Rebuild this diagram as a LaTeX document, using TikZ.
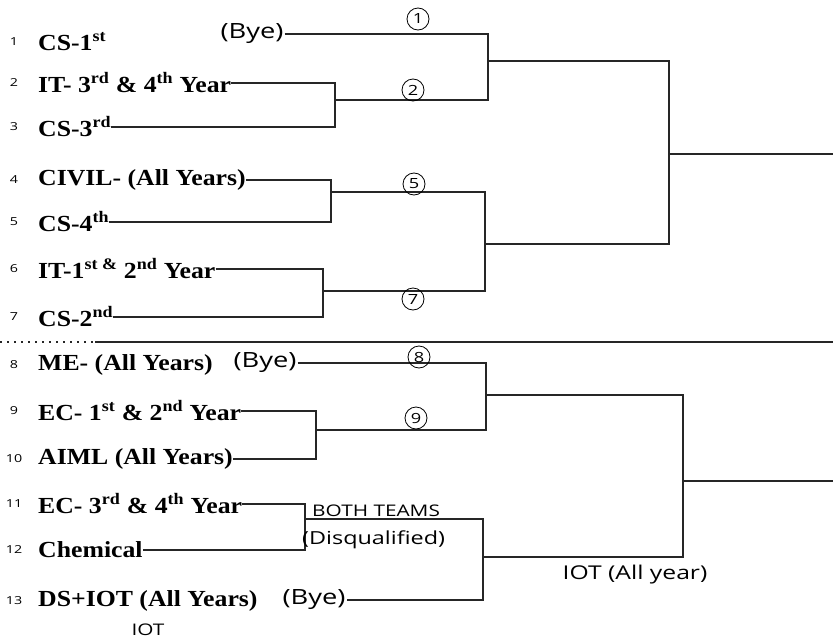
\documentclass[tikz,border=0pt]{standalone}
\usepackage{fontspec}
\setmainfont{Liberation Serif}
\newfontfamily\teamfont[FakeStretch=1.12]{Liberation Serif}
\newfontfamily\hand[FakeStretch=1.3]{Open Sans}

\tikzset{
    team/.style={anchor=west, inner sep=0pt, font=\teamfont\bfseries\fontsize{23}{26}\selectfont},
    seed/.style={inner sep=0pt, font=\hand\fontsize{11}{12}\selectfont},
    note/.style={inner sep=1pt, font=\hand\fontsize{#1}{#1}\selectfont},
    note/.default=21,
    rnd/.style={circle, draw, thick, inner sep=0pt, minimum size=22pt, font=\hand\fontsize{14}{16}\selectfont},
    wire/.style={line width=1.2pt, draw=black!85}
}

\begin{document}
\begin{tikzpicture}[x=1pt, y=-1pt]
    \useasboundingbox (0,0) rectangle (833,640);

    % Teams with their seed numbers
    \foreach \i/\y/\name in {
        1/42/{CS-1\textsuperscript{st}},
        2/83/{IT- 3\textsuperscript{rd} \& 4\textsuperscript{th} Year},
        3/127/{CS-3\textsuperscript{rd}},
        4/180/{CIVIL- (All Years)},
        5/222/{CS-4\textsuperscript{th}},
        6/269/{IT-1\textsuperscript{st \&} 2\textsuperscript{nd} Year},
        7/317/{CS-2\textsuperscript{nd}},
        8/365/{ME- (All Years)},
        9/411/{EC- 1\textsuperscript{st} \& 2\textsuperscript{nd} Year},
        10/459/{AIML (All Years)},
        11/504/{EC- 3\textsuperscript{rd} \& 4\textsuperscript{th} Year},
        12/550/{Chemical},
        13/601/{DS+IOT (All Years)}
    } {
        \node[team] (t\i) at (38,\y) {\name};
        \node[seed] (n\i) at (14,\y) {\i};
    }

    % Byes
    \node[note] (bye1) at (252,34) {(Bye)};
    \node[note] (bye8) at (265,363) {(Bye)};
    \node[note] (bye13) at (314,600) {(Bye)};

    % Bracket joints
    \coordinate (m23) at (335,100);
    \coordinate (m45) at (331,192);
    \coordinate (m67) at (323,291);
    \coordinate (m910) at (316,430);
    \coordinate (m1112) at (305,519);
    \coordinate (q1) at (488,61);
    \coordinate (q2) at (485,244);
    \coordinate (q3) at (486,395);
    \coordinate (q4) at (483,557);
    \coordinate (s1) at (669,154);
    \coordinate (s2) at (683,481);
    \coordinate (w1) at (833,154);
    \coordinate (w2) at (833,481);

    % Upper half
    \draw[wire] (t2.east) -| (m23) |- (t3.east);
    \draw[wire] (bye1.east) -| (q1) |- (m23);
    \draw[wire] (t4.east) -| (m45) |- (t5.east);
    \draw[wire] (t6.east) -| (m67) |- (t7.east);
    \draw[wire] (m45) -| (q2) |- (m67);
    \draw[wire] (q1) -| (s1) |- (q2);
    \draw[wire] (s1) -- (w1);

    % Divider
    \coordinate (sepL) at (0,342);
    \coordinate (sepM) at (95,342);
    \coordinate (sepR) at (833,342);
    \draw[wire, dash pattern=on 2pt off 5pt] (sepL) -- (sepM);
    \draw[wire] (sepM) -- (sepR);

    % Lower half
    \draw[wire] (t9.east) -| (m910) |- (t10.east);
    \draw[wire] (bye8.east) -| (q3) |- (m910);
    \draw[wire] (t11.east) -| (m1112) |- (t12.east);
    \draw[wire] (m1112) -| (q4) |- (bye13.east);
    \draw[wire] (q3) -| (s2) |- (q4);
    \draw[wire] (s2) -- (w2);

    % Match numbers
    \node[rnd] (c1) at (418,19) {1};
    \node[rnd] (c2) at (413,90) {2};
    \node[rnd] (c5) at (414,184) {5};
    \node[rnd] (c7) at (413,299) {7};
    \node[rnd] (c8) at (419,357) {8};
    \node[rnd] (c9) at (416,418) {9};

    % Notes
    \node[note=16, anchor=south west] (both) at (311,518) {BOTH TEAMS};
    \node[note=18, anchor=west] (dq) at (301,540) {(Disqualified)};
    \node[note=19] (iotall) at (635,575) {IOT (All year)};
    \node[note=16] (iot) at (148,630) {IOT};
\end{tikzpicture}
\end{document}
